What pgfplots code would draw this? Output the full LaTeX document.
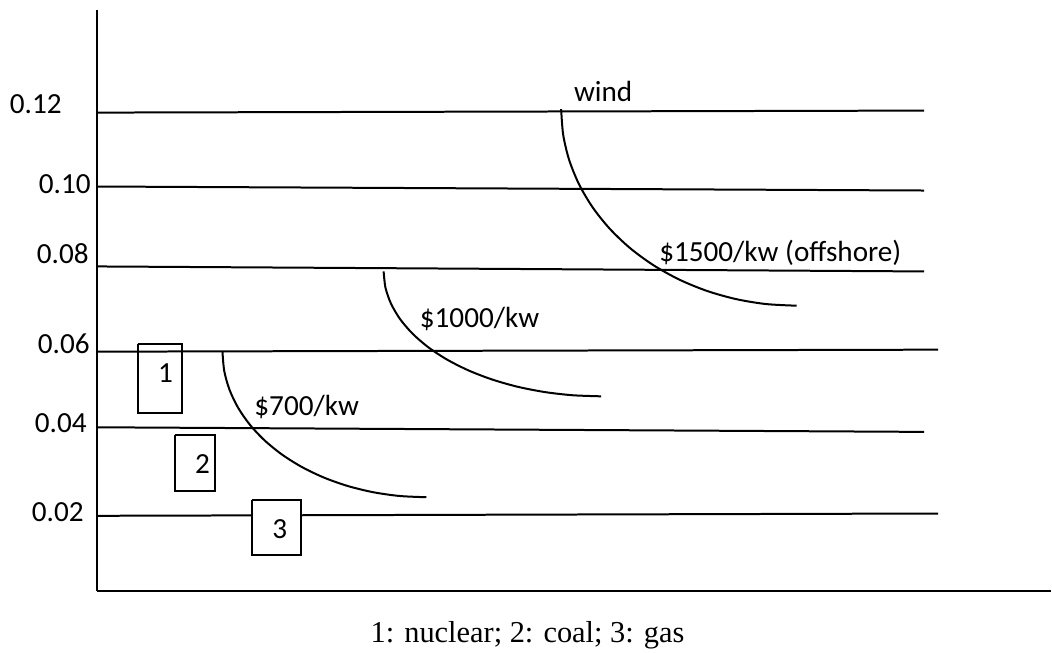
\documentclass[border=0pt]{standalone}
\usepackage{fontspec}
\setmainfont{Carlito}
\newfontfamily\capfont{Liberation Serif}
\usepackage{pgfplots}
\pgfplotsset{compat=1.18}
\tikzset{lbl/.style={font=\fontsize{14.6}{17}\selectfont, inner sep=0pt},
  ln/.style={draw=black, solid, line width=1pt, mark=none}}
\begin{document}
\begin{tikzpicture}
\begin{axis}[
  scale only axis,
  width=477.5pt, height=290.85pt,
  xmin=97, xmax=1052, ymin=61.3, ymax=643,
  axis lines=left,
  axis line style={-, line width=1pt, black},
  xtick=\empty, ytick=\empty,
  clip=false,
]
% invisible frame for the page size
\path (axis cs:0,0) rectangle (axis cs:1052,653);
% cost levels
\addplot[ln] coordinates {(98,540.3) (925,542.3)};
\addplot[ln] coordinates {(98,466.3) (925,462.3)};
\addplot[ln] coordinates {(98,386.3) (925,381.3)};
\addplot[ln] coordinates {(98,301) (939,303)};
\addplot[ln] coordinates {(98,225.3) (925,220.7)};
\addplot[ln] coordinates {(97,136.7) (939,139)};
% $700/kw curve
\addplot[ln, smooth] coordinates {(222.7,300.7) (224.45,281.72) (229.65,263.07) (238.23,245.06) (250.03,228.0) (264.86,212.19) (282.45,197.89) (302.51,185.35) (324.7,174.78) (348.63,166.37) (373.9,160.25) (400.07,156.54) (426.7,155.3)};
% $1000/kw curve
\addplot[ln, smooth] coordinates {(384.0,381.3) (385.86,364.98) (391.42,348.95) (400.57,333.46) (413.17,318.8) (428.99,305.2) (447.76,292.91) (469.17,282.13) (492.85,273.05) (518.39,265.81) (545.35,260.56) (573.28,257.37) (601.7,256.3)};
% wind curve
\addplot[ln, smooth] coordinates {(561.7,543.7) (563.72,518.03) (569.73,492.79) (579.63,468.43) (593.26,445.35) (610.39,423.96) (630.71,404.61) (653.88,387.65) (679.5,373.35) (707.14,361.97) (736.32,353.7) (766.55,348.68) (797.3,347.0)};
% boxes
\addplot[ln] coordinates {(137.7,309) (182.3,309) (182.3,239.7) (137.7,239.7) (137.7,309)};
\addplot[ln] coordinates {(175,217.7) (215.7,217.7) (215.7,162) (175,162) (175,217.7)};
\addplot[ln, fill=white] coordinates {(252.3,152.7) (301,152.7) (301,97) (252.3,97) (252.3,152.7)};
% y labels
\node[lbl, anchor=base west] at (axis cs:9.5,539.7) {0.12};
\node[lbl, anchor=base west] at (axis cs:38.5,459.7) {0.10};
\node[lbl, anchor=base west] at (axis cs:36.5,389) {0.08};
\node[lbl, anchor=base west] at (axis cs:37.5,298.7) {0.06};
\node[lbl, anchor=base west] at (axis cs:34.5,219.7) {0.04};
\node[lbl, anchor=base west] at (axis cs:31.5,131.3) {0.02};
% box numbers
\node[lbl, anchor=base] at (axis cs:165.7,269.7) {1};
\node[lbl, anchor=base] at (axis cs:202.7,179) {2};
\node[lbl, anchor=base] at (axis cs:280,114.3) {3};
% curve labels
\node[lbl, anchor=base] at (axis cs:603.8,551.3) {wind};
\node[lbl, anchor=base] at (axis cs:781,391.3) {\$1500/kw (offshore)};
\node[lbl, anchor=base] at (axis cs:480,324.7) {\$1000/kw};
\node[lbl, anchor=base] at (axis cs:307,237) {\$700/kw};
% caption
\node[inner sep=0pt, anchor=base, font=\capfont\fontsize{15.2}{18}\selectfont] at (axis cs:528,9.7) {1: nuclear; 2: coal; 3: gas};
\end{axis}
\end{tikzpicture}
\end{document}
